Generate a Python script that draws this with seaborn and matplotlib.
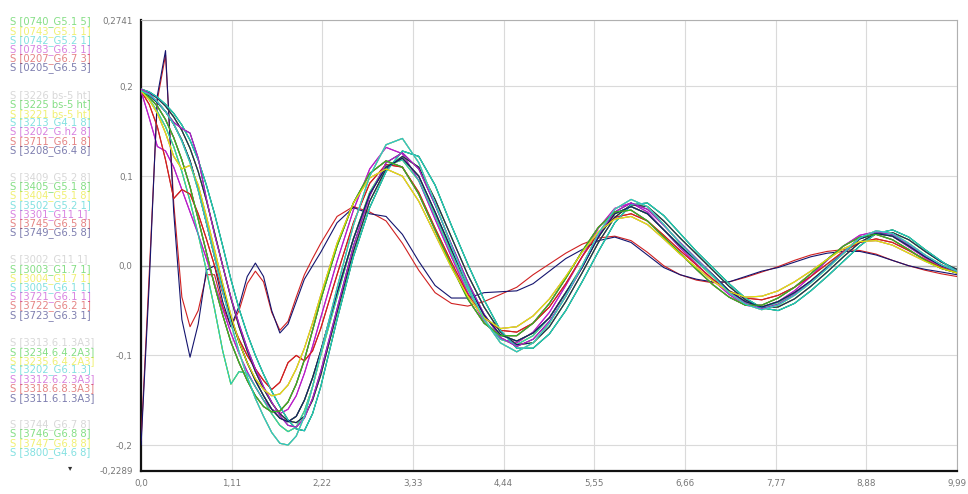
import numpy as np
import pandas as pd
import seaborn as sns
import matplotlib
matplotlib.use('Agg')
import matplotlib.pyplot as plt

x_knots = [0.0, 0.1, 0.2, 0.3, 0.4, 0.5, 0.6, 0.7, 0.8, 0.9, 1.0, 1.1, 1.2, 1.3, 1.4, 1.5,
           1.6, 1.7, 1.8, 1.9, 2.0, 2.1, 2.2,
           2.4, 2.6, 2.8, 3.0, 3.2, 3.4, 3.6, 3.8, 4.0, 4.2, 4.4, 4.6, 4.8, 5.0, 5.2, 5.4,
           5.6, 5.8, 6.0, 6.2, 6.4, 6.6, 6.8, 7.0, 7.2, 7.4, 7.6, 7.8, 8.0, 8.2, 8.4, 8.6,
           8.8, 9.0, 9.2, 9.4, 9.6, 9.8, 9.99]

# trace shapes
trace_mid = [0.195, 0.190, 0.182, 0.172, 0.158, 0.140, 0.117, 0.085, 0.048, 0.010, -0.025, -0.058,
             -0.085, -0.108, -0.128, -0.145, -0.160, -0.170, -0.174, -0.168, -0.150, -0.125, -0.095,
             -0.030, 0.030, 0.080, 0.110, 0.120, 0.100, 0.060, 0.018, -0.022, -0.055, -0.077, -0.084,
             -0.075, -0.058, -0.030, -0.002, 0.032, 0.058, 0.066, 0.058, 0.040, 0.022, 0.006, -0.010,
             -0.028, -0.040, -0.046, -0.040, -0.030, -0.017, -0.002, 0.014, 0.030, 0.036, 0.033,
             0.022, 0.010, 0.000, -0.006]
trace_early = [0.195, 0.188, 0.178, 0.163, 0.143, 0.118, 0.088, 0.052, 0.015, -0.022, -0.055, -0.085,
               -0.108, -0.128, -0.145, -0.157, -0.163, -0.162, -0.152, -0.132, -0.105, -0.072, -0.038,
               0.022, 0.070, 0.103, 0.117, 0.110, 0.080, 0.040, 0.000, -0.037, -0.064, -0.078, -0.078,
               -0.064, -0.042, -0.014, 0.016, 0.043, 0.060, 0.062, 0.050, 0.032, 0.014, -0.004, -0.021,
               -0.035, -0.044, -0.044, -0.036, -0.024, -0.009, 0.007, 0.022, 0.032, 0.035, 0.029,
               0.018, 0.006, -0.003, -0.008]
trace_late = [0.197, 0.194, 0.188, 0.180, 0.170, 0.157, 0.140, 0.118, 0.090, 0.058, 0.022, -0.015,
              -0.048, -0.076, -0.100, -0.121, -0.140, -0.157, -0.172, -0.182, -0.184, -0.165, -0.135,
              -0.060, 0.010, 0.065, 0.105, 0.128, 0.122, 0.090, 0.045, 0.002, -0.038, -0.072, -0.092,
              -0.092, -0.076, -0.050, -0.018, 0.016, 0.048, 0.068, 0.070, 0.056, 0.036, 0.016, -0.002,
              -0.020, -0.036, -0.047, -0.050, -0.042, -0.028, -0.012, 0.005, 0.022, 0.036, 0.040,
              0.032, 0.018, 0.005, -0.006]
trace_deep = [0.195, 0.191, 0.183, 0.172, 0.158, 0.139, 0.115, 0.084, 0.048, 0.010, -0.028, -0.064,
              -0.096, -0.124, -0.148, -0.168, -0.186, -0.198, -0.200, -0.190, -0.168, -0.135, -0.098,
              -0.025, 0.045, 0.100, 0.135, 0.142, 0.115, 0.070, 0.022, -0.022, -0.060, -0.086, -0.096,
              -0.086, -0.064, -0.034, 0.000, 0.036, 0.063, 0.074, 0.066, 0.046, 0.025, 0.007, -0.011,
              -0.030, -0.043, -0.049, -0.044, -0.033, -0.019, -0.003, 0.014, 0.031, 0.039, 0.036,
              0.025, 0.012, 0.001, -0.006]
trace_bump = [0.195, 0.180, 0.155, 0.118, 0.075, 0.085, 0.080, 0.058, 0.030, 0.000, -0.030, -0.060,
              -0.082, -0.100, -0.115, -0.128, -0.138, -0.130, -0.108, -0.100, -0.106, -0.095, -0.070,
              -0.010, 0.048, 0.092, 0.113, 0.110, 0.082, 0.042, 0.004, -0.032, -0.058, -0.072, -0.074,
              -0.064, -0.046, -0.020, 0.010, 0.036, 0.054, 0.058, 0.050, 0.034, 0.017, 0.001, -0.015,
              -0.028, -0.036, -0.038, -0.033, -0.024, -0.012, 0.002, 0.016, 0.026, 0.030, 0.026,
              0.017, 0.007, -0.002, -0.008]
trace_shoulder = [0.197, 0.192, 0.183, 0.172, 0.160, 0.153, 0.148, 0.120, 0.075, 0.035, 0.000, -0.035,
                  -0.065, -0.092, -0.115, -0.135, -0.152, -0.167, -0.178, -0.180, -0.170, -0.148, -0.118,
                  -0.048, 0.022, 0.078, 0.115, 0.126, 0.108, 0.068, 0.024, -0.018, -0.054, -0.080, -0.090,
                  -0.082, -0.062, -0.034, -0.002, 0.034, 0.060, 0.070, 0.063, 0.045, 0.026, 0.008, -0.010,
                  -0.029, -0.042, -0.048, -0.043, -0.032, -0.018, -0.002, 0.015, 0.031, 0.038, 0.035,
                  0.024, 0.011, 0.001, -0.006]
trace_spike = [-0.200, -0.020, 0.190, 0.240, 0.060, -0.060, -0.102, -0.065, -0.005, 0.000, -0.040, -0.068,
               -0.045, -0.012, 0.003, -0.012, -0.050, -0.075, -0.065, -0.040, -0.015, 0.000, 0.015,
               0.048, 0.065, 0.058, 0.055, 0.035, 0.005, -0.022, -0.036, -0.036, -0.030, -0.029, -0.028,
               -0.020, -0.006, 0.008, 0.018, 0.028, 0.032, 0.026, 0.012, -0.002, -0.010, -0.015, -0.018,
               -0.018, -0.012, -0.006, -0.002, 0.004, 0.010, 0.014, 0.016, 0.016, 0.012, 0.006,
               0.000, -0.004, -0.007, -0.010]
trace_side = [-0.195, -0.010, 0.185, 0.235, 0.070, -0.035, -0.068, -0.050, -0.010, -0.010, -0.045, -0.068,
              -0.050, -0.020, -0.006, -0.018, -0.052, -0.072, -0.062, -0.035, -0.010, 0.008, 0.025,
              0.055, 0.066, 0.060, 0.050, 0.025, -0.005, -0.030, -0.042, -0.045, -0.040, -0.032, -0.024,
              -0.010, 0.002, 0.014, 0.024, 0.031, 0.033, 0.028, 0.015, 0.000, -0.010, -0.016, -0.019,
              -0.018, -0.013, -0.007, -0.001, 0.006, 0.012, 0.016, 0.018, 0.017, 0.013, 0.006,
              0.000, -0.005, -0.009, -0.012]
trace_kink = [0.195, 0.186, 0.172, 0.155, 0.133, 0.105, 0.072, 0.035, -0.005, -0.048, -0.095, -0.132,
              -0.118, -0.120, -0.135, -0.150, -0.165, -0.178, -0.185, -0.180, -0.162, -0.135, -0.100,
              -0.035, 0.030, 0.082, 0.112, 0.118, 0.095, 0.056, 0.014, -0.026, -0.060, -0.082, -0.088,
              -0.078, -0.058, -0.030, 0.000, 0.033, 0.058, 0.066, 0.058, 0.040, 0.022, 0.005, -0.012,
              -0.030, -0.042, -0.047, -0.041, -0.031, -0.017, -0.001, 0.016, 0.031, 0.037, 0.034,
              0.023, 0.011, 0.001, -0.006]
trace_dip = [0.195, 0.165, 0.133, 0.128, 0.110, 0.085, 0.060, 0.035, 0.008, -0.020, -0.048, -0.075,
             -0.098, -0.118, -0.135, -0.150, -0.160, -0.165, -0.160, -0.145, -0.120, -0.090, -0.058,
             0.005, 0.062, 0.108, 0.132, 0.125, 0.095, 0.052, 0.010, -0.030, -0.062, -0.082, -0.086,
             -0.074, -0.052, -0.022, 0.010, 0.042, 0.064, 0.070, 0.060, 0.040, 0.020, 0.002, -0.016,
             -0.032, -0.044, -0.047, -0.040, -0.028, -0.012, 0.006, 0.022, 0.034, 0.038, 0.033,
             0.021, 0.009, -0.001, -0.008]
trace_right = [0.197, 0.193, 0.187, 0.178, 0.166, 0.151, 0.131, 0.105, 0.073, 0.037, 0.000, -0.036,
               -0.068, -0.095, -0.118, -0.137, -0.153, -0.165, -0.173, -0.175, -0.168, -0.150, -0.122,
               -0.052, 0.016, 0.072, 0.108, 0.122, 0.110, 0.074, 0.032, -0.010, -0.046, -0.074, -0.088,
               -0.086, -0.068, -0.040, -0.008, 0.026, 0.054, 0.068, 0.066, 0.050, 0.031, 0.013, -0.005,
               -0.023, -0.038, -0.047, -0.046, -0.037, -0.023, -0.007, 0.010, 0.026, 0.036, 0.037,
               0.029, 0.016, 0.004, -0.004]
trace_shallow = [0.195, 0.185, 0.170, 0.148, 0.122, 0.108, 0.112, 0.090, 0.055, 0.018, -0.020, -0.055,
                 -0.085, -0.108, -0.126, -0.138, -0.145, -0.143, -0.133, -0.115, -0.092, -0.064, -0.033,
                 0.025, 0.070, 0.098, 0.108, 0.100, 0.072, 0.035, -0.002, -0.034, -0.058, -0.070, -0.068,
                 -0.056, -0.037, -0.012, 0.015, 0.038, 0.052, 0.055, 0.046, 0.030, 0.013, -0.002, -0.017,
                 -0.029, -0.035, -0.034, -0.028, -0.018, -0.006, 0.007, 0.019, 0.027, 0.028, 0.023,
                 0.014, 0.005, -0.003, -0.008]

# legend entries (top to bottom), their colour slot, group and trace
series_labels = [
    'S [0740_G5.1 5]', 'S [0743_G5.1 1]', 'S [0742_G5.2 1]', 'S [0783_G6.3 1]', 'S [0207_G6.7 3]', 'S [0205_G6.5 3]',
    'S [3226 bs-5 ht]', 'S [3225 bs-5 ht]', 'S [3221 bs-5 ht]', 'S [3213_G4.1 8]', 'S [3202_G.h2 8]', 'S [3711_G6.1 8]', 'S [3208_G6.4 8]',
    'S [3409_G5.2 8]', 'S [3405_G5.1 8]', 'S [3404_G5.1 8]', 'S [3502_G5.2 1]', 'S [3301_G11 1]', 'S [3745_G6.5 8]', 'S [3749_G6.5 8]',
    'S [3002_G11 1]', 'S [3003_G1.7 1]', 'S [3004_G1.7 1]', 'S [3005_G6.1 1]', 'S [3721_G6.1 1]', 'S [3722_G6.2 1]', 'S [3723_G6.3 1]',
    'S [3313.6.1.3A3]', 'S [3234.6.4.2A3]', 'S [3235.6.4.2A3]', 'S [3202_G6.1.3]', 'S [3312.6.2.3A3]', 'S [3318.6.8.3A3]', 'S [3311.6.1.3A3]',
    'S [3744_G6.7 8]', 'S [3746_G6.8 8]', 'S [3747_G6.8 8]', 'S [3800_G4.6 8]',
]
series_slots = [
    'green', 'yellow', 'cyan', 'magenta', 'red', 'navy',
    'grey', 'green', 'yellow', 'cyan', 'magenta', 'red', 'navy',
    'grey', 'green', 'yellow', 'cyan', 'magenta', 'red', 'navy',
    'grey', 'green', 'yellow', 'cyan', 'magenta', 'red', 'navy',
    'grey', 'green', 'yellow', 'cyan', 'magenta', 'red', 'navy',
    'grey', 'green', 'yellow', 'cyan',
]
series_groups = [0] * 6 + [1] * 7 + [2] * 7 + [3] * 7 + [4] * 7 + [5] * 4
series_traces = [
    'mid', 'early', 'deep', 'dip', 'bump', 'late',
    'deep', 'kink', 'mid', 'right', 'early', 'shallow', 'shoulder',
    'mid', 'right', 'kink', 'early', 'dip', 'side', 'spike',
    'early', 'late', 'right', 'kink', 'mid', 'bump', 'right',
    'shallow', 'mid', 'deep', 'late', 'shoulder', 'early', 'mid',
    'deep', 'early', 'shallow', 'deep',
]

x_ticks = [0.0, 1.11, 2.22, 3.33, 4.44, 5.55, 6.66, 7.77, 8.88, 9.99]
x_tick_labels = ['0,0', '1,11', '2,22', '3,33', '4,44', '5,55', '6,66', '7,77', '8,88', '9,99']
y_ticks = [-0.2289, -0.2, -0.1, 0.0, 0.1, 0.2, 0.2741]
y_tick_labels = ['-0,2289', '-0,2', '-0,1', '0,0', '0,1', '0,2', '0,2741']

slot_colors = {
    'grey': '#b8b8b8', 'green': '#22c422', 'yellow': '#e4e400', 'cyan': '#1ec8c8',
    'magenta': '#b81ec8', 'red': '#d02020', 'navy': '#14146e',
}

traces = {
    'mid': trace_mid, 'early': trace_early, 'late': trace_late, 'deep': trace_deep,
    'bump': trace_bump, 'shoulder': trace_shoulder, 'spike': trace_spike, 'side': trace_side,
    'kink': trace_kink, 'dip': trace_dip, 'right': trace_right, 'shallow': trace_shallow,
}

rows = []
for label, trace in zip(series_labels, series_traces):
    for x, y in zip(x_knots, traces[trace]):
        rows.append({'x': x, 'y': y, 'label': label})
df = pd.DataFrame(rows)
palette = {lab: slot_colors[s] for lab, s in zip(series_labels, series_slots)}

sns.set_style('white')
plt.rcParams['font.family'] = ['DejaVu Sans']

fig = plt.figure(figsize=(9.68, 4.94), dpi=100)
ax = fig.add_axes([0.1457, 0.0466, 0.8429, 0.9129])

ax.axhline(0.0, color='#a8a8a8', lw=1.0, zorder=1)
sns.lineplot(data=df, x='x', y='y', hue='label', hue_order=series_labels, palette=palette,
             estimator=None, sort=False, legend=False, linewidth=0.8, ax=ax, zorder=3)

ax.set_xlim(0, 9.99)
ax.set_ylim(-0.2289, 0.2741)
ax.set_xticks(x_ticks)
ax.set_xticklabels(x_tick_labels)
ax.set_yticks(y_ticks)
ax.set_yticklabels(y_tick_labels)
ax.set_xlabel('')
ax.set_ylabel('')
ax.grid(True, color='#dadada', lw=0.8, zorder=0)
ax.tick_params(direction='out', length=3, width=0.8, colors='#333333', labelsize=6.3,
               labelcolor='#777777', pad=3)

for side in ['left', 'bottom']:
    ax.spines[side].set_color('#111111')
    ax.spines[side].set_linewidth(1.6)
for side in ['top', 'right']:
    ax.spines[side].set_color('#b0b0b0')
    ax.spines[side].set_linewidth(0.8)

# coloured text legend on the left
y_px = 22.0
prev_group = 0
for label, slot, group in zip(series_labels, series_slots, series_groups):
    if group != prev_group:
        y_px += 18.0
        prev_group = group
    fig.text(10 / 968, 1 - y_px / 494, label, color=slot_colors[slot], alpha=0.55,
             fontsize=7.2, va='center', ha='left')
    y_px += 9.2
fig.text(70 / 968, 1 - 468 / 494, '\u25be', color='#333333', fontsize=6, va='center', ha='center')

fig.savefig('out.png', dpi=100)
